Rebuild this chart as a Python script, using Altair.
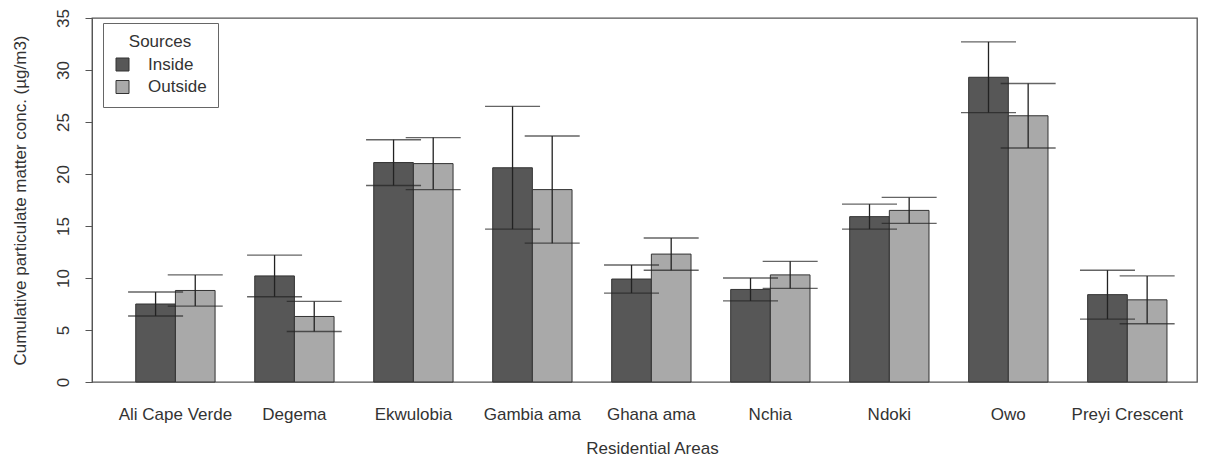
import altair as alt
import pandas as pd

areas = ["Ali Cape Verde", "Degema", "Ekwulobia", "Gambia ama", "Ghana ama",
         "Nchia", "Ndoki", "Owo", "Preyi Crescent"]
sources = ["Inside", "Outside"]
inside_mean = [7.5, 10.2, 21.1, 20.6, 9.9, 8.9, 15.9, 29.3, 8.4]
inside_err = [1.15, 2.0, 2.2, 5.9, 1.35, 1.1, 1.2, 3.4, 2.35]
outside_mean = [8.8, 6.3, 21.0, 18.5, 12.3, 10.3, 16.5, 25.6, 7.9]
outside_err = [1.5, 1.45, 2.5, 5.15, 1.55, 1.3, 1.25, 3.1, 2.3]
y_ticks = [0, 5, 10, 15, 20, 25, 30, 35]

rows = []
for i, a in enumerate(areas):
    rows.append({"area": a, "source": "Inside", "mean": inside_mean[i], "err": inside_err[i]})
    rows.append({"area": a, "source": "Outside", "mean": outside_mean[i], "err": outside_err[i]})
df = pd.DataFrame(rows)

FONT = "Liberation Sans"
TXT = "#333333"

x_enc = alt.X("area:N", sort=areas,
              scale=alt.Scale(paddingInner=1/3, paddingOuter=0.31, align=0.593),
              axis=alt.Axis(title="Residential Areas", labelAngle=0, ticks=False, tickSize=0,
                            labelPadding=24, labelFontSize=17, labelColor=TXT, labelFont=FONT,
                            titleFontSize=17, titleColor=TXT, titleFont=FONT, titleFontWeight="normal",
                            titleBaseline="alphabetic", titleY=71, titleX=560, domain=False))
xoff = alt.XOffset("source:N", sort=sources,
                   scale=alt.Scale(domain=sources, paddingInner=0, paddingOuter=0))

y_scale = alt.Scale(domain=[0, 35], nice=False, zero=True)

base = alt.Chart(df).transform_calculate(
    lo="datum.mean - datum.err", hi="datum.mean + datum.err")

bars = base.mark_bar(stroke="#333333", strokeWidth=1).encode(
    x=x_enc,
    xOffset=xoff,
    y=alt.Y("mean:Q", scale=y_scale,
            axis=alt.Axis(title="Cumulative particulate matter conc. (\u00b5g/m3)",
                          values=y_ticks, grid=False, tickSize=7, tickColor="#555555",
                          domainColor="#555555", labelAngle=-90, labelAlign="center",
                          labelBaseline="alphabetic", labelPadding=16.5, labelFontSize=17,
                          labelColor=TXT, labelFont=FONT, titleFontSize=17, titleColor=TXT,
                          titleFont=FONT, titleFontWeight="normal", titleAngle=-90,
                          titleBaseline="alphabetic", titleAlign="center", titleX=-67,
                          titleY=182)),
    color=alt.Color("source:N", sort=sources,
                    scale=alt.Scale(domain=sources, range=["#575757", "#a9a9a9"]),
                    legend=alt.Legend(title="Sources", orient="none", legendX=11, legendY=5,
                                      symbolType="square", symbolSize=169,
                                      symbolStrokeColor="#333333", symbolStrokeWidth=1,
                                      labelFontSize=17, labelColor=TXT, labelFont=FONT,
                                      labelOffset=17, titleFontSize=17, titleColor=TXT,
                                      titleFont=FONT, titleFontWeight="normal",
                                      titleAnchor="middle", titlePadding=5, rowPadding=4.5,
                                      padding=11, strokeColor="#666666", fillColor="white")),
)

rule = base.mark_rule(color="#222222", strokeWidth=1.3).encode(
    x=alt.X("area:N", sort=areas), xOffset=xoff,
    y=alt.Y("lo:Q", scale=y_scale), y2="hi:Q")

cap_lo = base.mark_tick(color="#222222", size=55, thickness=1.4).encode(
    x=alt.X("area:N", sort=areas), xOffset=xoff, y=alt.Y("lo:Q", scale=y_scale))
cap_hi = base.mark_tick(color="#222222", size=55, thickness=1.4).encode(
    x=alt.X("area:N", sort=areas), xOffset=xoff, y=alt.Y("hi:Q", scale=y_scale))

chart = alt.layer(bars, rule, cap_lo, cap_hi).properties(
    width=1105, height=364,
    autosize=alt.AutoSizeParams(type="none"),
    padding={"left": 84, "top": 10, "right": 1, "bottom": 78},
).configure_view(stroke="#555555", strokeWidth=1.3)

chart.save("out.html", embed_options={"renderer": "svg", "actions": False})
